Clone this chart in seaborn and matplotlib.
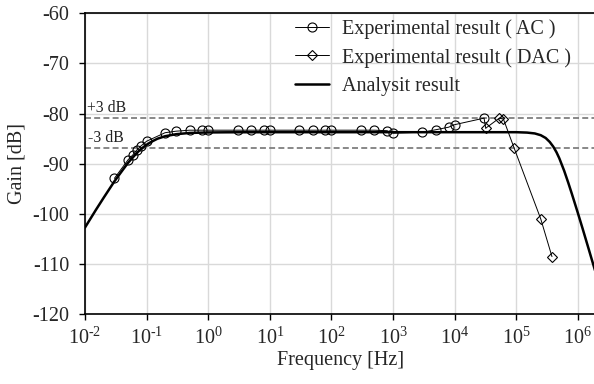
import matplotlib
matplotlib.use('Agg')
import matplotlib.pyplot as plt
from matplotlib.ticker import NullLocator
import pandas as pd
import seaborn as sns

# ---- data ----
ac_freq = [0.03, 0.05, 0.06, 0.07, 0.08, 0.1, 0.2, 0.3, 0.5, 0.8, 1, 3, 5, 8, 10,
           30, 50, 80, 100, 300, 500, 800, 1000, 3000, 5000, 8000, 10000, 30000]
ac_gain = [-92.9, -89.2, -88.2, -87.2, -86.5, -85.5, -83.8, -83.5, -83.3, -83.3, -83.3,
           -83.3, -83.3, -83.3, -83.3, -83.3, -83.3, -83.3, -83.3, -83.3, -83.3, -83.4,
           -83.9, -83.7, -83.2, -82.7, -82.2, -80.9]

dac_freq = [32000, 53000, 62000, 92000, 250000, 380000]
dac_gain = [-82.9, -80.9, -81.1, -86.8, -101.0, -108.5]

model_freq = [0.01, 0.015, 0.02, 0.03, 0.04, 0.05, 0.06, 0.07, 0.08, 0.1, 0.12, 0.15,
              0.2, 0.3, 0.5, 1, 2, 10, 100, 1000, 10000, 100000, 150000, 200000,
              250000, 300000, 350000, 400000, 450000, 500000, 600000, 700000, 800000,
              1000000, 1200000, 1500000, 2000000]
model_gain = [-102.7, -99.2, -96.8, -93.5, -91.4, -89.8, -88.7, -87.8, -87.1, -86.2,
              -85.6, -85.0, -84.5, -84.1, -83.85, -83.75, -83.72, -83.7, -83.7, -83.7,
              -83.7, -83.7, -83.78, -83.95, -84.3, -84.85, -85.65, -86.6, -87.7, -88.9,
              -91.4, -93.8, -96.0, -99.8, -103.0, -107.0, -112.2]

ref_levels = [-80.8, -86.8]
ref_labels = ['+3 dB', '-3 dB']

x_ticks = [1e-2, 1e-1, 1e0, 1e1, 1e2, 1e3, 1e4, 1e5, 1e6]
x_tick_labels = ['10$^{\\text{-2}}$', '10$^{\\text{-1}}$', '10$^{\\text{0}}$',
                 '10$^{\\text{1}}$', '10$^{\\text{2}}$', '10$^{\\text{3}}$',
                 '10$^{\\text{4}}$', '10$^{\\text{5}}$', '10$^{\\text{6}}$']
y_ticks = [-120, -110, -100, -90, -80, -70, -60]
y_tick_labels = ['-120', '-110', '-100', '-90', '-80', '-70', '-60']

legend_labels = ['Experimental result ( AC )', 'Experimental result ( DAC )',
                 'Analysit result']
x_label = 'Frequency [Hz]'
y_label = 'Gain [dB]'

# ---- style ----
sns.set_style('white')
plt.rcParams['font.family'] = ['Liberation Serif', 'DejaVu Serif']
plt.rcParams['mathtext.fontset'] = 'custom'
plt.rcParams['mathtext.rm'] = 'Liberation Serif'
plt.rcParams['mathtext.it'] = 'Liberation Serif:italic'
plt.rcParams['mathtext.bf'] = 'Liberation Serif:bold'
plt.rcParams['axes.unicode_minus'] = False

fig = plt.figure(figsize=(5.94, 3.84), dpi=100)
ax = fig.add_axes([85 / 594, (384 - 314.3) / 384, 511.4 / 594, 301 / 384])
ax.set_xscale('log')

ac_df = pd.DataFrame({'f': ac_freq, 'g': ac_gain})
dac_df = pd.DataFrame({'f': dac_freq, 'g': dac_gain})
model_df = pd.DataFrame({'f': model_freq, 'g': model_gain})
link_df = pd.DataFrame({'f': [ac_freq[-1], dac_freq[0]], 'g': [ac_gain[-1], dac_gain[0]]})

for lvl in ref_levels:
    ax.axhline(lvl, color='#7f7f7f', ls=(0, (3.3, 1.8)), lw=1.3, zorder=2)
for lvl, lab, dx in zip(ref_levels, ref_labels, [1.06e-2, 1.13e-2]):
    ax.text(dx, lvl + 0.25, lab, fontsize=11.3, va='bottom', ha='left', color='#222222')

sns.lineplot(data=model_df, x='f', y='g', ax=ax, color='black', lw=1.8,
             sort=False, estimator=None, label=legend_labels[2], zorder=3)
sns.lineplot(data=link_df, x='f', y='g', ax=ax, color='black', lw=0.7,
             sort=False, estimator=None, zorder=4)
sns.lineplot(data=ac_df, x='f', y='g', ax=ax, color='black', lw=0.7, marker='o',
             markersize=6.5, mfc='none', mec='black', mew=0.8,
             sort=False, estimator=None, label=legend_labels[0], zorder=5)
sns.lineplot(data=dac_df, x='f', y='g', ax=ax, color='black', lw=0.7, marker='D',
             markersize=5.0, mfc='none', mec='black', mew=0.8,
             sort=False, estimator=None, label=legend_labels[1], zorder=5)

ax.set_xlim(1e-2, 2e6)
ax.set_ylim(-120, -60)
ax.set_xticks(x_ticks)
ax.set_xticklabels(x_tick_labels)
ax.xaxis.set_minor_locator(NullLocator())
ax.set_yticks(y_ticks)
ax.set_yticklabels(y_tick_labels)
ax.tick_params(axis='both', which='major', labelsize=14.5, direction='out',
               length=4.5, width=1, color='black', left=True, bottom=True)
ax.tick_params(axis='y', pad=7)
ax.tick_params(axis='x', pad=5)
ax.grid(True, which='major', color='#d9d9d9', lw=1.0, zorder=0)
ax.set_axisbelow(True)
for side in ['left', 'bottom', 'top']:
    ax.spines[side].set_color('black')
    ax.spines[side].set_linewidth(1.2)
ax.spines['right'].set_visible(False)

ax.set_xlabel(x_label, fontsize=14.5, labelpad=2)
ax.set_ylabel(y_label, fontsize=14.5, labelpad=4)

handles, labels = ax.get_legend_handles_labels()
order = [labels.index(l) for l in legend_labels]
ax.legend([handles[i] for i in order], [labels[i] for i in order],
          loc='upper left', bbox_to_anchor=(295 / 594, 1 - 19 / 384),
          bbox_transform=fig.transFigure, frameon=False, fontsize=14.5,
          handlelength=1.7, handletextpad=0.65, labelspacing=0.45,
          borderpad=0, borderaxespad=0, numpoints=1)

fig.savefig('out.png', dpi=100)
